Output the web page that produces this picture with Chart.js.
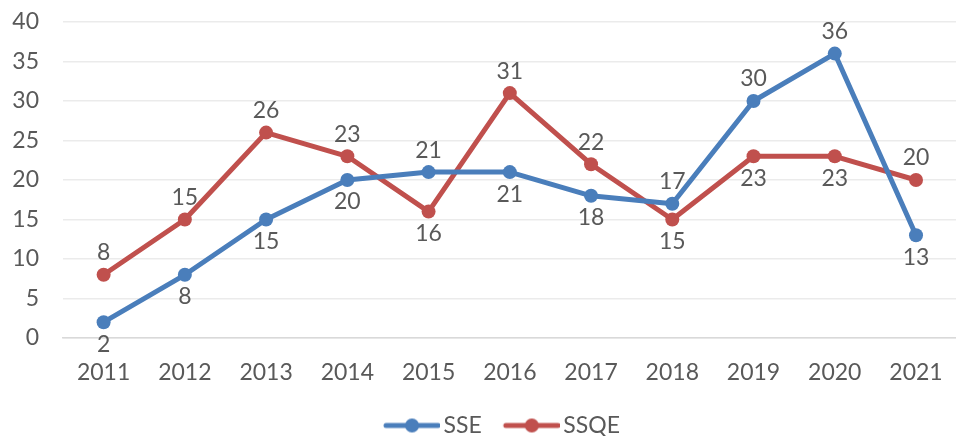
<!DOCTYPE html>
<html>
<head>
<meta charset="utf-8">
<script src="https://cdn.jsdelivr.net/npm/chart.js@4/dist/chart.umd.min.js"></script>
<style>
  html, body { margin: 0; padding: 0; background: #fff; overflow: hidden; }
  #wrap { width: 964px; height: 436px; }
</style>
</head>
<body>
<div id="wrap"><canvas id="chart"></canvas></div>
<script>
// ── Data ──────────────────────────────────────────────────────────────
const years    = ['2011','2012','2013','2014','2015','2016','2017','2018','2019','2020','2021'];
const sseVals  = [2, 8, 15, 20, 21, 21, 18, 17, 30, 36, 13];
const ssqeVals = [8, 15, 26, 23, 16, 31, 22, 15, 23, 23, 20];

// where each value label sits relative to its point
const ssePos  = ['below','below','below','below','above','below','below','above','above','above','below'];
const ssqePos = ['above','above','above','above','below','above','above','below','below','below','above'];

const BLUE = '#4a7ebb';
const RED  = '#c0504d';
const TEXT = '#595959';
const FONT = 'Lato';

// ── Legend swatch: short line with a dot in the middle ───────────────
// drawn 8px right of centre so it sits close to the label text
function lineSwatch(color) {
  const c = document.createElement('canvas');
  c.width = 72; c.height = 16;
  const g = c.getContext('2d');
  g.strokeStyle = color; g.lineWidth = 5; g.lineCap = 'round';
  g.beginPath(); g.moveTo(18, 8); g.lineTo(70, 8); g.stroke();
  g.fillStyle = color;
  g.beginPath(); g.arc(44, 8, 7, 0, Math.PI * 2); g.fill();
  return c;
}
const swatches = [lineSwatch(BLUE), lineSwatch(RED)];

// ── Value labels above / below points ────────────────────────────────
const valueLabels = {
  id: 'valueLabels',
  afterDatasetsDraw(chart) {
    const ctx = chart.ctx;
    const positions = [ssePos, ssqePos];
    ctx.save();
    ctx.font = `23px ${FONT}`;
    ctx.fillStyle = TEXT;
    ctx.textAlign = 'center';
    ctx.textBaseline = 'middle';
    chart.data.datasets.forEach((ds, di) => {
      chart.getDatasetMeta(di).data.forEach((pt, i) => {
        const dy = positions[di][i] === 'above' ? -22 : 22;
        ctx.fillText(String(ds.data[i]), pt.x, pt.y + dy);
      });
    });
    ctx.restore();
  }
};

// nudge the legend so it sits under the middle of the plot
const legendShift = {
  id: 'legendShift',
  afterLayout(chart) {
    chart.legend.left += 12;
    chart.legend.right += 12;
  }
};

new Chart(document.getElementById('chart'), {
  type: 'line',
  data: {
    labels: years,
    datasets: [
      { label: 'SSE',  data: sseVals,  borderColor: BLUE, backgroundColor: BLUE,
        pointBackgroundColor: BLUE, pointBorderColor: BLUE },
      { label: 'SSQE', data: ssqeVals, borderColor: RED,  backgroundColor: RED,
        pointBackgroundColor: RED,  pointBorderColor: RED }
    ]
  },
  options: {
    responsive: true,
    maintainAspectRatio: false,
    animation: false,
    elements: {
      line:  { borderWidth: 5, tension: 0, borderCapStyle: 'round', borderJoinStyle: 'round' },
      point: { radius: 7, borderWidth: 0, hoverRadius: 7 }
    },
    layout: { padding: { left: 8, right: 0, top: 22, bottom: -11 } },
    scales: {
      x: {
        offset: true,
        grid: { display: false, drawTicks: false },
        border: { color: '#d9d9d9', width: 1.5 },
        ticks: { color: TEXT, font: { family: FONT, size: 23 }, padding: 21 },
        afterFit(scale) { scale.height = 62; }
      },
      y: {
        min: 0, max: 40,
        ticks: { stepSize: 5, color: TEXT, font: { family: FONT, size: 23 }, padding: 24 },
        grid: { color: '#ebebeb', lineWidth: 1.5, drawTicks: false },
        border: { display: false },
        // fixed width; keep the tick padding from pushing the plot down
        afterFit(scale) { scale.width = 55; scale.paddingTop = 12; scale.paddingBottom = 12; }
      }
    },
    plugins: {
      legend: {
        position: 'bottom',
        labels: {
          usePointStyle: true,
          pointStyleWidth: 56,
          color: TEXT,
          font: { family: FONT, size: 23 },
          padding: 14,
          generateLabels(chart) {
            const items = Chart.defaults.plugins.legend.labels.generateLabels(chart);
            items.forEach((it, i) => { it.pointStyle = swatches[i]; it.fontColor = TEXT; });
            return items;
          }
        }
      },
      tooltip: { enabled: false }
    }
  },
  plugins: [valueLabels, legendShift]
});
</script>
</body>
</html>
